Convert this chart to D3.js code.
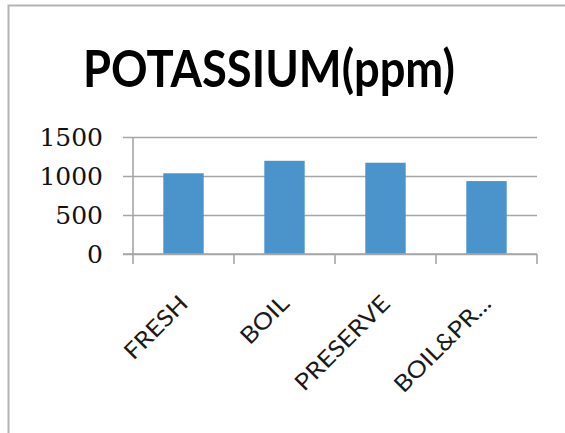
<!DOCTYPE html>
<html>
<head>
<meta charset="utf-8">
<script src="https://cdn.jsdelivr.net/npm/d3@7"></script>
<style>
  html, body { margin: 0; padding: 0; background: #fff; }
  svg { display: block; }
</style>
</head>
<body>
<svg id="chart" width="565" height="433"></svg>
<script>
// Potassium content (ppm) by treatment
const categories = ["FRESH", "BOIL", "PRESERVE", "BOIL&PR..."];
const potassium = [1035, 1195, 1170, 935];
const yTicks = [0, 500, 1000, 1500];
const title = "POTASSIUM(ppm)";

const svg = d3.select("#chart");
const W = 565, H = 433;
const plot = { left: 133, right: 537, top: 137, bottom: 254 };

// chart frame (left and top edges)
svg.append("path")
  .attr("d", `M8.5,${H} V5.5 H${W}`)
  .attr("fill", "none")
  .attr("stroke", "#b4b4b4")
  .attr("stroke-width", 2);

// title
svg.append("text")
  .attr("x", 269)
  .attr("y", 87)
  .attr("text-anchor", "middle")
  .attr("font-family", "Lato, 'Open Sans', sans-serif")
  .attr("font-weight", "bold")
  .attr("font-size", 51)
  .attr("textLength", 372)
  .attr("lengthAdjust", "spacingAndGlyphs")
  .attr("fill", "#000")
  .text(title);

const x = d3.scaleBand()
  .domain(categories)
  .range([plot.left, plot.right])
  .paddingInner(0.6)
  .paddingOuter(0.3);

const y = d3.scaleLinear()
  .domain([0, 1500])
  .range([plot.bottom, plot.top]);

// horizontal gridlines with left tick stubs
const yAxis = d3.axisLeft(y)
  .tickValues(yTicks)
  .tickSize(-(plot.right - plot.left) - 10)
  .tickFormat("");
const gy = svg.append("g")
  .attr("transform", `translate(${plot.right},0)`)
  .call(yAxis);
gy.select(".domain").remove();
gy.selectAll(".tick line")
  .attr("stroke", "#a6a6a6")
  .attr("stroke-width", 1.6)
  .attr("x1", 0)
  .attr("x2", -(plot.right - plot.left) - 10);

// vertical axis line
svg.append("line")
  .attr("x1", plot.left).attr("x2", plot.left)
  .attr("y1", plot.top).attr("y2", plot.bottom)
  .attr("stroke", "#a6a6a6")
  .attr("stroke-width", 1.6);

// y tick labels
svg.append("g")
  .selectAll("text")
  .data(yTicks)
  .join("text")
  .attr("x", 103)
  .attr("y", d => y(d))
  .attr("dy", "0.36em")
  .attr("text-anchor", "end")
  .attr("font-family", "'DejaVu Serif', serif")
  .attr("font-size", 25)
  .attr("fill", "#111")
  .text(d => d);

// bars
svg.append("g")
  .selectAll("rect")
  .data(potassium)
  .join("rect")
  .attr("x", (d, i) => x(categories[i]))
  .attr("width", x.bandwidth())
  .attr("y", d => y(d))
  .attr("height", d => y(0) - y(d))
  .attr("fill", "#4a94cb");

// category axis with tick marks between categories
const step = x.step();
const boundaries = d3.range(categories.length + 1).map(i => plot.left + i * step);
svg.append("line")
  .attr("x1", plot.left - 10).attr("x2", plot.right)
  .attr("y1", plot.bottom).attr("y2", plot.bottom)
  .attr("stroke", "#a6a6a6")
  .attr("stroke-width", 1.6);
svg.append("g")
  .selectAll("line")
  .data(boundaries)
  .join("line")
  .attr("x1", d => d).attr("x2", d => d)
  .attr("y1", plot.bottom).attr("y2", plot.bottom + 10)
  .attr("stroke", "#a6a6a6")
  .attr("stroke-width", 1.6);

// rotated category labels
svg.append("g")
  .selectAll("text")
  .data(categories)
  .join("text")
  .attr("transform", d => `translate(${x(d) + x.bandwidth() / 2 + 6},305) rotate(-45) scale(1.12,1)`)
  .attr("text-anchor", "end")
  .attr("font-family", "Lato, 'Open Sans', sans-serif")
  .attr("font-size", 23)
  .attr("fill", "#1a1a1a")
  .text(d => d);
</script>
</body>
</html>
